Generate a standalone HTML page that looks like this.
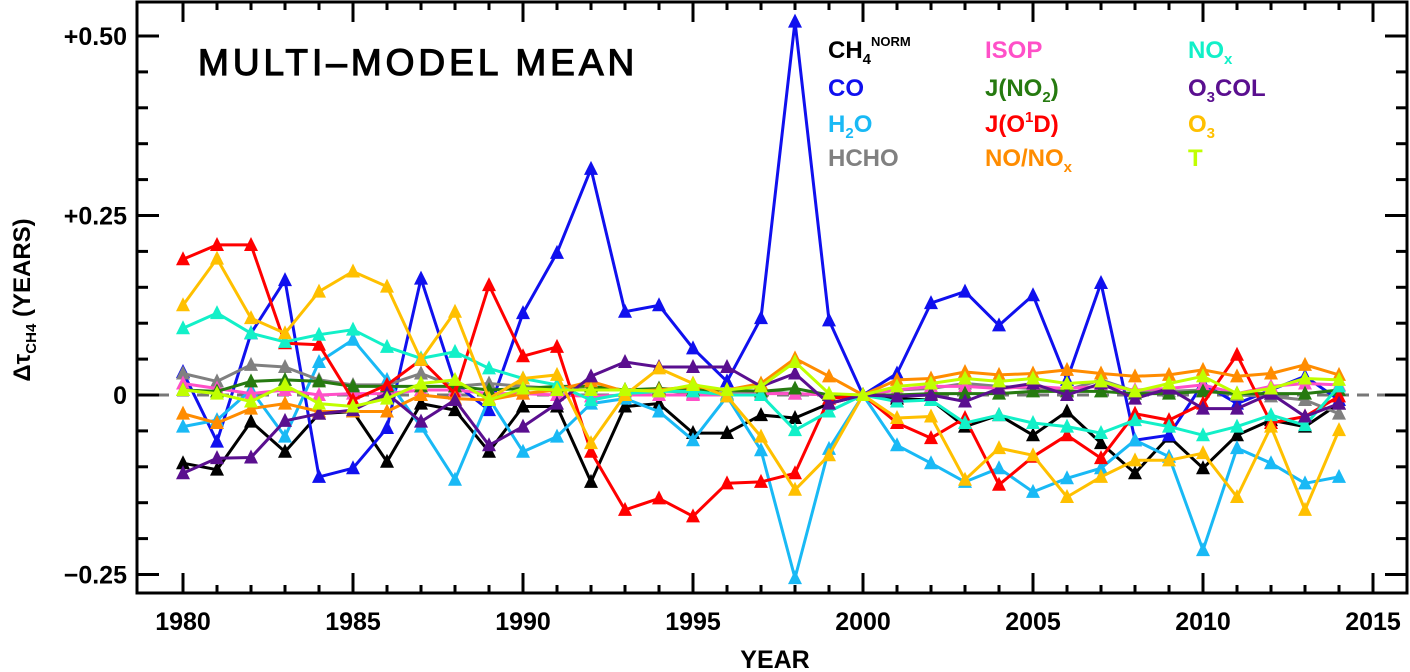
<!DOCTYPE html>
<html><head><meta charset="utf-8"><style>
body{margin:0;background:#fff;}
svg{display:block;font-family:"Liberation Sans",sans-serif;font-weight:bold;}
</style></head><body>
<svg id="c" width="1410" height="672" viewBox="0 0 1410 672"></svg>
<script>
const years=[];for(let y=1980;y<=2014;y++)years.push(y);
const ch4=[-0.095,-0.104,-0.037,-0.079,-0.026,-0.023,-0.093,-0.012,-0.021,-0.079,-0.016,-0.016,-0.121,-0.016,-0.012,-0.053,-0.053,-0.028,-0.032,-0.012,0,-0.005,-0.007,-0.044,-0.028,-0.056,-0.023,-0.067,-0.109,-0.058,-0.102,-0.056,-0.035,-0.044,-0.012];
const co=[0.032,-0.065,0.086,0.160,-0.114,-0.102,-0.046,0.162,0.016,-0.021,0.114,0.198,0.315,0.116,0.125,0.065,0.019,0.107,0.52,0.104,0,0.030,0.128,0.144,0.097,0.139,0.021,0.156,-0.063,-0.056,0.016,-0.012,0.007,0.026,-0.007];
const h2o=[-0.044,-0.035,0.007,-0.058,0.046,0.077,0.021,-0.044,-0.118,-0.005,-0.079,-0.058,-0.012,-0.005,-0.023,-0.063,-0.002,-0.077,-0.255,-0.075,0,-0.070,-0.095,-0.121,-0.102,-0.135,-0.116,-0.102,-0.063,-0.086,-0.216,-0.074,-0.095,-0.123,-0.114];
const hcho=[0.030,0.019,0.042,0.039,0.021,0.014,0.014,0.030,0.012,0.016,0.012,0.009,0.007,0.007,0.007,0.002,0.002,0.005,0.002,0,0,0.007,0.009,0.016,0.012,0.009,0.007,0.021,0.005,0.005,0.007,0,-0.002,-0.007,-0.026];
const isop=[0.016,0.009,0.002,0.007,0,0.002,0.002,0.007,0.007,0.002,0.002,0,-0.002,0,0,0,0,0.002,0.002,0,0,0.007,0.012,0.012,0.009,0.012,0.009,0.012,0.007,0.009,0.014,0.002,0.012,0.016,0.014];
const jno2=[0.007,0.005,0.019,0.021,0.019,0.012,0.012,0.012,0.012,0.007,0.009,0.012,0.012,0.007,0.009,0.007,0.007,0.005,0.009,0,0,0,0.002,0.002,0.002,0.005,0.005,0.005,0.002,0.002,0.005,0.002,0.002,0.002,0.007];
const jo1d=[0.189,0.209,0.209,0.072,0.070,-0.007,0.014,0.049,0.002,0.153,0.054,0.067,-0.079,-0.160,-0.144,-0.169,-0.123,-0.121,-0.109,-0.005,0,-0.039,-0.060,-0.032,-0.125,-0.086,-0.056,-0.088,-0.026,-0.035,-0.012,0.056,-0.039,-0.030,-0.002];
const nonox=[-0.026,-0.039,-0.019,-0.012,-0.023,-0.023,-0.023,0,-0.005,-0.007,0.002,0.007,0.019,0.005,0.007,0.012,0.007,0.016,0.051,0.026,0,0.021,0.023,0.032,0.028,0.030,0.035,0.030,0.026,0.028,0.035,0.026,0.030,0.042,0.028];
const nox=[0.093,0.114,0.086,0.074,0.084,0.091,0.067,0.051,0.060,0.037,0.023,0.014,-0.007,0.002,0.005,0.005,0,0,-0.049,-0.023,0,-0.009,-0.007,-0.039,-0.028,-0.039,-0.044,-0.053,-0.035,-0.044,-0.056,-0.044,-0.028,-0.042,0.012];
const o3col=[-0.109,-0.088,-0.087,-0.036,-0.026,-0.021,0.002,-0.037,-0.007,-0.070,-0.044,-0.012,0.026,0.046,0.039,0.039,0.039,0.012,0.030,-0.012,0,-0.002,0,-0.009,0.009,0.016,0,0.016,-0.005,0.009,-0.019,-0.019,0.002,-0.030,-0.012];
const o3=[0.125,0.19,0.107,0.086,0.144,0.172,0.151,0.049,0.116,-0.005,0.023,0.028,-0.067,0,0.037,0.016,-0.002,-0.058,-0.132,-0.084,0,-0.032,-0.030,-0.118,-0.074,-0.084,-0.142,-0.114,-0.091,-0.091,-0.081,-0.142,-0.044,-0.160,-0.049];
const temp=[0.007,0.002,-0.009,0.014,-0.012,-0.016,-0.005,0.016,0.021,-0.007,0.009,0.007,0.007,0.007,0.005,0.014,0.007,0.012,0.046,0.002,0,0.012,0.016,0.023,0.019,0.023,0.016,0.019,0.005,0.016,0.026,0.002,0.009,0.023,0.021];
const yTicks=[0.5,0.25,0,-0.25];
const yTickLabels=["+0.50","+0.25","0","\u22120.25"];
const xTicks=[1980,1985,1990,1995,2000,2005,2010,2015];

const NS="http://www.w3.org/2000/svg";
const svg=document.getElementById('c');
const L=137,R=1407,T=2,B=593;
const X=v=>183+(v-1980)*34;
const Y=v=>395-v*718;
function el(tag,attrs,parent){const e=document.createElementNS(NS,tag);for(const k in attrs)e.setAttribute(k,attrs[k]);(parent||svg).appendChild(e);return e;}

const zl=el('line',{x1:L,x2:R,y1:Y(0),y2:Y(0),stroke:'#777','stroke-width':3,'stroke-dasharray':'12,8'});



const fr=el('rect',{x:L,y:T,width:R-L,height:B-T,fill:'none',stroke:'#000','stroke-width':3});



for(let v=-0.25;v<=0.5001;v+=0.05){
  const big=Math.abs(v*4-Math.round(v*4))<1e-6;
  const len=big?22:11;
  el('line',{x1:L,x2:L+len,y1:Y(v),y2:Y(v),stroke:'#000','stroke-width':3});
  el('line',{x1:R,x2:R-len,y1:Y(v),y2:Y(v),stroke:'#000','stroke-width':3});
}
yTicks.forEach((v,i)=>{
  const t=el('text',{x:L-10,y:Y(v)+9,'text-anchor':'end','font-size':25});
  t.textContent=yTickLabels[i];
  
  
});
for(let yr=1980;yr<=2015;yr++){
  const big=yr%5===0;const len=big?20:8;
  el('line',{x1:X(yr),x2:X(yr),y1:B,y2:B-len,stroke:'#000','stroke-width':3});
  el('line',{x1:X(yr),x2:X(yr),y1:T,y2:T+len,stroke:'#000','stroke-width':3});
}
xTicks.forEach(v=>{
  const t=el('text',{x:X(v),y:630,'text-anchor':'middle','font-size':25});
  t.textContent=v;
  
  
});
const xt=el('text',{x:775,y:668,'text-anchor':'middle','font-size':25});
xt.textContent='YEAR';


const yt=el('text',{x:0,y:0,'text-anchor':'middle','font-size':24,transform:'translate(30,300) rotate(-90)'});
yt.innerHTML='\u0394\u03c4<tspan font-size="15" dy="6">CH4</tspan><tspan dy="-6"> (YEARS)</tspan>';


const ti=el('text',{x:198,y:75,'font-size':37,'font-weight':'normal','letter-spacing':'4',stroke:'#000','stroke-width':1.2});
ti.textContent='MULTI\u2013MODEL MEAN';



const series=[
 ['ch4-norm',ch4,'#000000'],['co',co,'#1010ee'],['h2o',h2o,'#19b9f5'],['hcho',hcho,'#808080'],
 ['isop',isop,'#ff50c8'],['j-no2',jno2,'#267a10'],['j-o1d',jo1d,'#ff0000'],['no-nox',nonox,'#ff8c00'],
 ['nox',nox,'#12f0c8'],['o3col',o3col,'#5a0f8f'],['o3',o3,'#ffc000'],['t',temp,'#c0ff00']];
series.forEach(([name,data,col])=>{
  const g=el('g',{});
  
  
  const pts=data.map((v,i)=>X(years[i]).toFixed(1)+','+Y(v).toFixed(1)).join(' ');
  const pl=el('polyline',{points:pts,fill:'none',stroke:col,'stroke-width':3,'stroke-linejoin':'round'},g);
  
  
  data.forEach((v,i)=>{
    const x=X(years[i]),y=Y(v);
    const m=el('polygon',{points:`${x-7},${y+6} ${x+7},${y+6} ${x},${y-8}`,fill:col},g);
    
    
  });
});

const leg=[
 [828,58,'#000','CH<tspan font-size="15" dy="6">4</tspan><tspan font-size="13" dy="-18">NORM</tspan>'],
 [828,96,'#1010ee','CO'],
 [828,132,'#19b9f5','H<tspan font-size="15" dy="6">2</tspan><tspan dy="-6">O</tspan>'],
 [828,166,'#808080','HCHO'],
 [985,58,'#ff50c8','ISOP'],
 [985,96,'#267a10','J(NO<tspan font-size="15" dy="6">2</tspan><tspan dy="-6">)</tspan>'],
 [985,132,'#ff0000','J(O<tspan font-size="15" dy="-10">1</tspan><tspan dy="10">D)</tspan>'],
 [985,166,'#ff8c00','NO/NO<tspan font-size="15" dy="6">x</tspan>'],
 [1188,58,'#12f0c8','NO<tspan font-size="15" dy="6">x</tspan>'],
 [1188,96,'#5a0f8f','O<tspan font-size="15" dy="6">3</tspan><tspan dy="-6">COL</tspan>'],
 [1188,132,'#ffc000','O<tspan font-size="15" dy="6">3</tspan>'],
 [1188,166,'#c0ff00','T']];
leg.forEach(([x,y,c,h])=>{
  const t=el('text',{x:x,y:y,fill:c,'font-size':24});
  t.innerHTML=h;
  
  
});
</script>
</body></html>
